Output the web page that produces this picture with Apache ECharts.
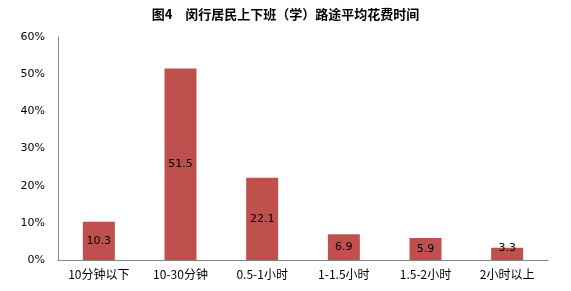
<!DOCTYPE html>
<html><head><meta charset="utf-8">
<script src="https://cdn.jsdelivr.net/npm/echarts@6/dist/echarts.min.js"></script>
<style>html,body{margin:0;padding:0;background:#fff}#c{width:571px;height:291px}</style>
</head><body><div id="c"></div>
<script>
const titleText = '图4　闵行居民上下班（学）路途平均花费时间';
const categories = ['10分钟以下','10-30分钟','0.5-1小时','1-1.5小时','1.5-2小时','2小时以上'];
const values = [10.3, 51.5, 22.1, 6.9, 5.9, 3.3];
const yTicks = [0, 10, 20, 30, 40, 50, 60];

const chart = echarts.init(document.getElementById('c'));
chart.setOption({
  animation: false,
  title: {
    text: titleText, left: 'center', top: 3,
    textStyle: {fontFamily: 'Noto Sans CJK SC', fontSize: 13, fontWeight: 'bold', color: '#000'}
  },
  grid: {left: 58, right: 23, top: 37, bottom: 31},
  xAxis: {
    type: 'category', data: categories,
    axisLine: {lineStyle: {color: '#868686'}},
    axisTick: {show: false},
    axisLabel: {color: '#000', fontSize: 12, fontFamily: 'Noto Sans CJK SC', margin: 8}
  },
  yAxis: {
    type: 'value', min: yTicks[0], max: yTicks[yTicks.length-1], interval: 10,
    axisLine: {show: true, lineStyle: {color: '#868686'}},
    axisTick: {show: false},
    splitLine: {show: false},
    axisLabel: {color: '#000', fontSize: 11, fontFamily: 'DejaVu Sans', margin: 13, formatter: v => v + '%'}
  },
  series: [{
    type: 'bar',
    data: values.map(v => v < 5 ? {value: v, label: {offset: [0, -6]}} : v),
    barWidth: 32,
    itemStyle: {color: '#C0504D'},
    label: {show: true, position: 'inside', color: '#000', fontSize: 11, fontFamily: 'DejaVu Sans',
      formatter: p => p.value.toFixed(1)}
  }]
});
</script></body></html>
